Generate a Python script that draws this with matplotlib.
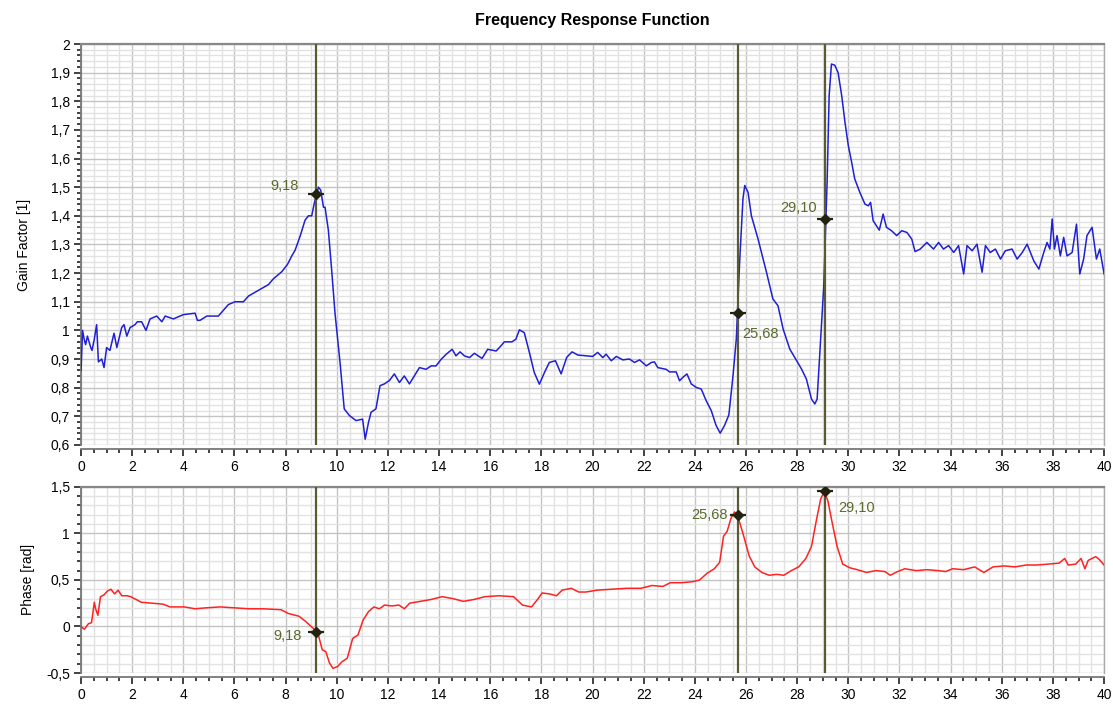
import matplotlib
matplotlib.use("Agg")
import matplotlib.pyplot as plt
from matplotlib.ticker import MultipleLocator, FuncFormatter

plt.rcParams['font.family'] = ['Liberation Sans', 'DejaVu Sans']

# gain factor trace
gain_x = [0.0, 0.06, 0.12, 0.18, 0.25, 0.38, 0.43, 0.52, 0.61, 0.68, 0.81, 0.9, 1.0, 1.13, 1.29,
          1.4, 1.59, 1.68, 1.79, 1.92, 2.11, 2.2, 2.37, 2.54, 2.7, 2.96, 3.16, 3.29, 3.61, 4.0,
          4.46, 4.55, 4.65, 4.92, 5.37, 5.76, 6.02, 6.35, 6.55, 6.94, 7.33, 7.52, 7.85, 8.07,
          8.24, 8.37, 8.57, 8.76, 8.89, 9.02, 9.11, 9.22, 9.28, 9.37, 9.48, 9.54, 9.67, 9.8,
          9.93, 10.13, 10.29, 10.49, 10.75, 11.01, 11.11, 11.24, 11.34, 11.53, 11.69, 11.86,
          12.06, 12.25, 12.45, 12.64, 12.84, 13.03, 13.23, 13.49, 13.69, 13.88, 14.08, 14.27,
          14.51, 14.66, 14.82, 14.99, 15.19, 15.38, 15.68, 15.9, 16.23, 16.42, 16.55, 16.85,
          17.0, 17.14, 17.33, 17.53, 17.72, 17.92, 18.12, 18.31, 18.55, 18.77, 18.99, 19.2,
          19.42, 19.75, 20.0, 20.2, 20.4, 20.53, 20.73, 20.93, 21.18, 21.44, 21.64, 21.84,
          22.1, 22.3, 22.42, 22.55, 22.88, 23.01, 23.27, 23.4, 23.53, 23.69, 23.86, 24.05,
          24.25, 24.44, 24.64, 24.83, 24.99, 25.16, 25.33, 25.49, 25.62, 25.69, 25.75, 25.82,
          25.88, 25.95, 26.08, 26.21, 26.47, 26.8, 27.05, 27.25, 27.45, 27.71, 27.97, 28.17,
          28.36, 28.56, 28.69, 28.78, 28.88, 29.04, 29.11, 29.17, 29.25, 29.34, 29.47, 29.6,
          29.74, 29.87, 30.0, 30.13, 30.25, 30.45, 30.65, 30.78, 30.87, 30.97, 31.21, 31.36,
          31.49, 31.69, 31.89, 32.09, 32.29, 32.48, 32.61, 32.81, 33.07, 33.33, 33.53, 33.72,
          33.92, 34.12, 34.31, 34.51, 34.64, 34.84, 35.03, 35.23, 35.36, 35.55, 35.75, 35.95,
          36.14, 36.4, 36.6, 36.8, 36.99, 37.25, 37.45, 37.64, 37.77, 37.88, 37.97, 38.06,
          38.16, 38.29, 38.42, 38.55, 38.75, 38.92, 39.05, 39.2, 39.33, 39.53, 39.7, 39.83, 40.0]
gain_y = [0.86, 1.0, 0.97, 0.95, 0.98, 0.94, 0.93, 0.97, 1.02, 0.89, 0.9, 0.87, 0.94, 0.93, 0.99,
          0.94, 1.01, 1.02, 0.98, 1.01, 1.02, 1.03, 1.03, 1.0, 1.04, 1.05, 1.03, 1.05, 1.04, 1.055,
          1.06, 1.035, 1.035, 1.05, 1.05, 1.09, 1.1, 1.1, 1.12, 1.14, 1.16, 1.18, 1.205, 1.23,
          1.26, 1.28, 1.33, 1.385, 1.4, 1.4, 1.44, 1.48, 1.5, 1.49, 1.43, 1.43, 1.35, 1.21,
          1.06, 0.885, 0.726, 0.703, 0.685, 0.69, 0.62, 0.679, 0.714, 0.726, 0.807, 0.813,
          0.825, 0.848, 0.818, 0.841, 0.813, 0.841, 0.87, 0.864, 0.876, 0.876, 0.899, 0.916,
          0.934, 0.911, 0.925, 0.911, 0.905, 0.92, 0.902, 0.934, 0.928, 0.946, 0.96, 0.96,
          0.969, 1.002, 0.992, 0.923, 0.853, 0.812, 0.853, 0.888, 0.894, 0.848, 0.906, 0.925,
          0.914, 0.911, 0.909, 0.923, 0.905, 0.917, 0.894, 0.909, 0.897, 0.9, 0.888, 0.897,
          0.876, 0.888, 0.89, 0.87, 0.864, 0.855, 0.855, 0.824, 0.836, 0.848, 0.813, 0.801,
          0.795, 0.755, 0.72, 0.668, 0.641, 0.668, 0.705, 0.841, 0.97, 1.11, 1.238, 1.354,
          1.459, 1.506, 1.482, 1.4, 1.319, 1.203, 1.11, 1.086, 1.005, 0.935, 0.895, 0.865,
          0.83, 0.76, 0.743, 0.76, 0.912, 1.156, 1.354, 1.517, 1.82, 1.93, 1.926, 1.9,
          1.82, 1.726, 1.645, 1.587, 1.529, 1.482, 1.441, 1.435, 1.447, 1.383, 1.35, 1.406,
          1.36, 1.348, 1.331, 1.348, 1.342, 1.319, 1.275, 1.284, 1.307, 1.284, 1.307, 1.284,
          1.296, 1.272, 1.296, 1.197, 1.296, 1.278, 1.301, 1.203, 1.296, 1.272, 1.284, 1.249,
          1.278, 1.284, 1.249, 1.272, 1.301, 1.243, 1.214, 1.272, 1.307, 1.284, 1.389, 1.284,
          1.331, 1.26, 1.325, 1.26, 1.272, 1.371, 1.197, 1.249, 1.331, 1.36, 1.249, 1.284, 1.197]

# phase trace
phase_x = [0.0, 0.13, 0.29, 0.41, 0.52, 0.57, 0.66, 0.76, 0.9, 1.03, 1.17, 1.31, 1.45, 1.59, 1.8,
           1.94, 2.08, 2.36, 2.78, 3.2, 3.48, 4.04, 4.46, 4.88, 5.44, 6.0, 6.56, 7.12, 7.82,
           8.1, 8.52, 8.8, 9.08, 9.26, 9.43, 9.57, 9.71, 9.85, 10.03, 10.2, 10.41, 10.62,
           10.83, 11.03, 11.24, 11.45, 11.66, 11.87, 12.15, 12.43, 12.64, 12.85, 13.27, 13.69,
           14.11, 14.53, 14.95, 15.37, 15.79, 16.35, 16.91, 17.26, 17.61, 17.82, 18.03, 18.31,
           18.59, 18.81, 19.17, 19.46, 19.74, 20.17, 20.75, 21.32, 21.89, 22.32, 22.75, 23.04,
           23.47, 23.9, 24.19, 24.47, 24.76, 24.97, 25.12, 25.26, 25.41, 25.55, 25.65, 25.76,
           25.91, 26.12, 26.34, 26.62, 26.91, 27.2, 27.48, 27.77, 28.06, 28.34, 28.56, 28.75,
           28.92, 29.06, 29.2, 29.35, 29.56, 29.78, 30.06, 30.35, 30.71, 31.07, 31.43, 31.64,
           31.93, 32.21, 32.65, 33.08, 33.51, 33.8, 34.08, 34.51, 34.94, 35.3, 35.66, 36.09,
           36.52, 36.95, 37.38, 37.81, 38.24, 38.46, 38.6, 38.89, 39.1, 39.25, 39.38, 39.67,
           39.81, 40.0]
phase_y = [0.0, -0.03, 0.03, 0.04, 0.26, 0.19, 0.12, 0.32, 0.34, 0.38, 0.4, 0.35, 0.39, 0.33, 0.33,
           0.32, 0.3, 0.26, 0.25, 0.24, 0.21, 0.21, 0.19, 0.2, 0.21, 0.2, 0.19, 0.19, 0.18,
           0.14, 0.11, 0.05, -0.02, -0.07, -0.25, -0.27, -0.39, -0.45, -0.43, -0.38, -0.34, -0.13,
           -0.09, 0.07, 0.16, 0.21, 0.19, 0.23, 0.22, 0.23, 0.19, 0.25, 0.27, 0.29,
           0.32, 0.3, 0.27, 0.29, 0.32, 0.33, 0.32, 0.23, 0.21, 0.28, 0.36, 0.35,
           0.33, 0.39, 0.41, 0.37, 0.37, 0.39, 0.4, 0.41, 0.41, 0.44, 0.43, 0.47,
           0.47, 0.48, 0.5, 0.57, 0.62, 0.69, 0.97, 1.02, 1.16, 1.23, 1.2, 1.11,
           0.97, 0.76, 0.64, 0.58, 0.55, 0.56, 0.55, 0.6, 0.64, 0.73, 0.86, 1.14,
           1.37, 1.45, 1.35, 1.14, 0.86, 0.67, 0.63, 0.61, 0.58, 0.6, 0.59, 0.55,
           0.59, 0.62, 0.6, 0.61, 0.6, 0.59, 0.62, 0.61, 0.64, 0.58, 0.64, 0.65,
           0.64, 0.66, 0.66, 0.67, 0.68, 0.73, 0.66, 0.67, 0.73, 0.62, 0.71, 0.75,
           0.72, 0.66]

# cursors
cursor_x = [9.18, 25.68, 29.10]
cursor_labels = ["9,18", "25,68", "29,10"]
cursor_gain = [1.475, 1.06, 1.389]
cursor_phase = [-0.06, 1.2, 1.45]

line_col = "#5a5a35"
text_col = "#5a6a2a"


def comma(v, pos):
    s = ("%.1f" % v).rstrip("0").rstrip(".")
    if s == "-0":
        s = "0"
    return s.replace(".", ",")


def style_axes(ax, ymajor, yminor):
    ax.set_xlim(0, 40)
    ax.xaxis.set_major_locator(MultipleLocator(2))
    ax.xaxis.set_minor_locator(MultipleLocator(0.5))
    ax.yaxis.set_major_locator(MultipleLocator(ymajor))
    ax.yaxis.set_minor_locator(MultipleLocator(yminor))
    ax.yaxis.set_major_formatter(FuncFormatter(comma))
    ax.grid(which="major", color="#c4c4c4", lw=1.0)
    ax.grid(which="minor", color="#e2e2e2", lw=1.0)
    ax.set_axisbelow(True)
    ax.tick_params(which="major", direction="out", length=5, width=1.3, labelsize=10, color="#333333", pad=3)
    ax.tick_params(which="minor", direction="out", length=3, width=1.3, color="#333333")
    for side in ["left", "bottom"]:
        ax.spines[side].set_color("#777777")
        ax.spines[side].set_linewidth(1.3)
    ax.spines["right"].set_color("#aaaaaa")
    ax.spines["right"].set_linewidth(1.0)
    ax.spines["top"].set_color("#888888")
    ax.spines["top"].set_linewidth(1.6)
    ax.spines["bottom"].set_position(("outward", 3))


fig = plt.figure(figsize=(11.13, 7.04), dpi=100)

ax1 = fig.add_axes([0.0728, 0.3680, 0.9192, 0.5695])
ax2 = fig.add_axes([0.0728, 0.0440, 0.9192, 0.2645])

# gain plot
ax1.plot(gain_x, gain_y, color="#1f1fd6", lw=1.1, zorder=3)
style_axes(ax1, 0.1, 0.02)
ax1.set_ylim(0.6, 2.0)
ax1.set_ylabel("Gain Factor [1]", fontsize=10, labelpad=14)
ax1.set_title("Frequency Response Function", fontsize=11.5, fontweight="bold", pad=14)

# phase plot
ax2.plot(phase_x, phase_y, color="#ff2222", lw=1.1, zorder=3)
style_axes(ax2, 0.5, 0.1)
ax2.set_ylim(-0.5, 1.5)
ax2.set_ylabel("Phase [rad]", fontsize=10, labelpad=8)

for ax, ys in [(ax1, cursor_gain), (ax2, cursor_phase)]:
    for cx, cy in zip(cursor_x, ys):
        ax.axvline(cx, color=line_col, lw=1.6, zorder=4)
        ax.plot([cx], [cy], marker="_", ms=11, mew=1.6, color="#222211", zorder=5)
        ax.plot([cx], [cy], marker="D", ms=5, color="#222211", zorder=5)

# cursor labels
ax1.annotate(cursor_labels[0], (cursor_x[0], cursor_gain[0]), xytext=(-12, 6),
             textcoords="offset points", ha="right", va="center", color=text_col, fontsize=10.5)
ax1.annotate(cursor_labels[1], (cursor_x[1], cursor_gain[1]), xytext=(3, -15),
             textcoords="offset points", ha="left", va="center", color=text_col, fontsize=10.5)
ax1.annotate(cursor_labels[2], (cursor_x[2], cursor_gain[2]), xytext=(-6, 8),
             textcoords="offset points", ha="right", va="center", color=text_col, fontsize=10.5)
ax2.annotate(cursor_labels[0], (cursor_x[0], cursor_phase[0]), xytext=(-10, -3),
             textcoords="offset points", ha="right", va="center", color=text_col, fontsize=10.5)
ax2.annotate(cursor_labels[1], (cursor_x[1], cursor_phase[1]), xytext=(-7, 0),
             textcoords="offset points", ha="right", va="center", color=text_col, fontsize=10.5)
ax2.annotate(cursor_labels[2], (cursor_x[2], cursor_phase[2]), xytext=(9, -12),
             textcoords="offset points", ha="left", va="center", color=text_col, fontsize=10.5)

fig.savefig("out.png", dpi=100)
